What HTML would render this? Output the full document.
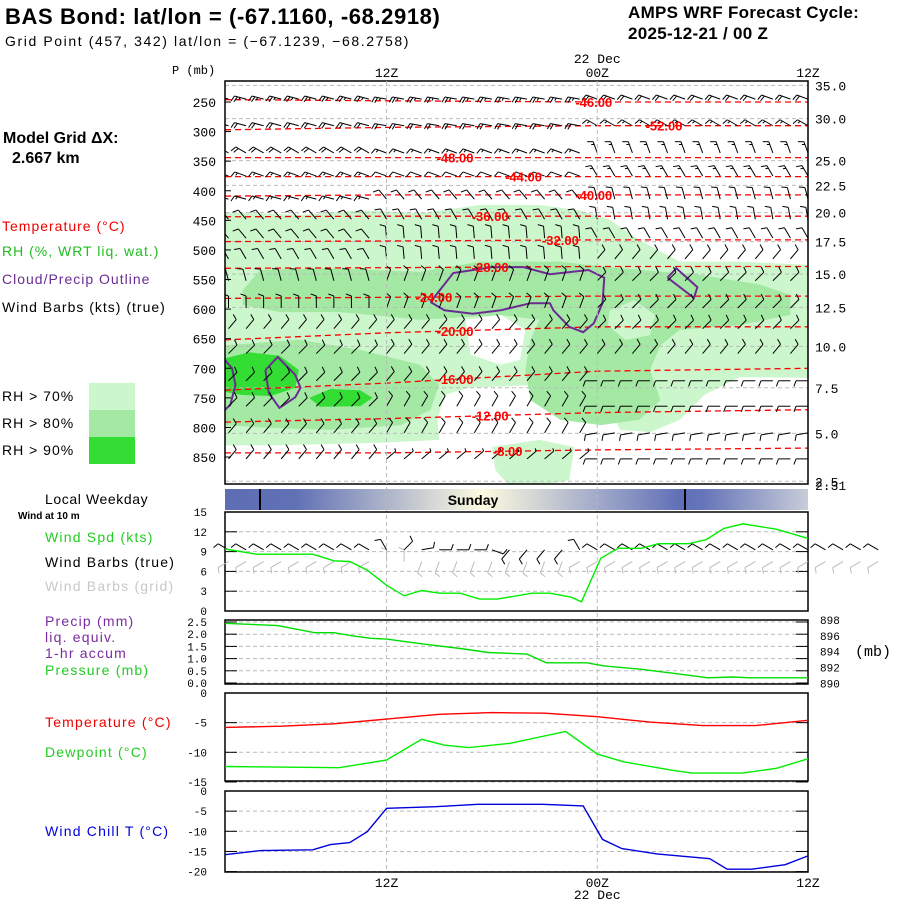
<!DOCTYPE html>
<html><head><meta charset="utf-8"><style>
html,body{margin:0;padding:0;background:#fff;}
svg{display:block;font-family:"Liberation Sans",sans-serif;}
.m{font-family:"Liberation Mono",monospace;}
</style></head><body>
<svg id="chart" width="900" height="900" viewBox="0 0 900 900">
<defs>
<linearGradient id="wk" x1="225" x2="808" y1="0" y2="0" gradientUnits="userSpaceOnUse">
<stop offset="0" stop-color="#5e6eb5"/><stop offset="0.12" stop-color="#6070b5"/>
<stop offset="0.44" stop-color="#fdfbe0"/><stop offset="0.78" stop-color="#6070b8"/>
<stop offset="0.82" stop-color="#6575b8"/><stop offset="1" stop-color="#c8ccd8"/>
</linearGradient>
<clipPath id="mainclip"><rect x="225" y="81" width="583" height="403"/></clipPath>
</defs>
<text x="5" y="24" font-size="22" font-weight="bold" letter-spacing="0.6">BAS Bond:  lat/lon = (-67.1160, -68.2918)</text>
<text x="5" y="46" font-size="14" letter-spacing="1.6">Grid Point (457, 342) lat/lon = (−67.1239, −68.2758)</text>
<text x="628" y="18" font-size="17" font-weight="bold" letter-spacing="0.3">AMPS WRF Forecast Cycle:</text>
<text x="628" y="39" font-size="17" font-weight="bold" letter-spacing="0.3">2025-12-21 / 00  Z</text>
<text x="3" y="143" font-size="16" font-weight="bold">Model Grid ΔX:</text>
<text x="12" y="163" font-size="16" font-weight="bold">2.667 km</text>
<g font-size="14" letter-spacing="1">
<text x="2" y="231" fill="#ee0000">Temperature (°C)</text>
<text x="2" y="256" fill="#22bb22">RH (%, WRT liq. wat.)</text>
<text x="2" y="284" fill="#6a2c91">Cloud/Precip Outline</text>
<text x="2" y="312" fill="#000">Wind Barbs (kts) (true)</text>
<text x="2" y="401">RH &gt; 70%</text>
<text x="2" y="428">RH &gt; 80%</text>
<text x="2" y="455">RH &gt; 90%</text>
</g>
<rect x="89" y="383" width="46" height="27" fill="#ccf7cc"/>
<rect x="89" y="410" width="46" height="27" fill="#a3e8a3"/>
<rect x="89" y="437" width="46" height="27" fill="#33dd33"/>
<text x="172" y="74" font-size="12" class="m">P (mb)</text>
<text x="878" y="280" font-size="12" class="m" transform="rotate(90 884 300)">Kft MSL</text>

<g id="main" clip-path="url(#mainclip)"></g>
<g id="overlay"></g>
<rect x="225" y="81" width="583" height="403" fill="none" stroke="#000" stroke-width="1.5"/>

<rect x="225" y="489" width="583" height="21" fill="url(#wk)"/>
<line x1="260" y1="489" x2="260" y2="510" stroke="#000" stroke-width="2"/>
<line x1="685" y1="489" x2="685" y2="510" stroke="#000" stroke-width="2"/>
<text x="473" y="505" font-size="14" font-weight="bold" text-anchor="middle">Sunday</text>
<text x="45" y="504" font-size="14" letter-spacing="0.6">Local Weekday</text>
<text x="18" y="519" font-size="10" font-weight="bold">Wind at 10 m</text>
<g font-size="14" letter-spacing="1.2">
<text x="45" y="542" fill="#22cc22">Wind Spd (kts)</text>
<text x="45" y="567" fill="#000">Wind Barbs (true)</text>
<text x="45" y="591" fill="#c8c8c8">Wind Barbs (grid)</text>
<text x="45" y="626" fill="#7a2ca0">Precip (mm)</text>
<text x="45" y="642" fill="#7a2ca0">liq. equiv.</text>
<text x="45" y="658" fill="#7a2ca0">1-hr accum</text>
<text x="45" y="675" fill="#22cc22">Pressure (mb)</text>
<text x="45" y="727" fill="#ee0000">Temperature (°C)</text>
<text x="45" y="757" fill="#22cc22">Dewpoint (°C)</text>
<text x="45" y="836" fill="#0000dd">Wind Chill T (°C)</text>
</g>
<text x="855" y="656" font-size="15" class="m">(mb)</text>
<g id="lower"></g>
</svg>
<script>
// ---------- data ----------
const levels = [250,300,350,400,450,500,550,600,650,700,750,800,850];
const kftLabels = ["35.0","30.0","25.0","22.5","20.0","17.5","15.0","12.5","10.0","7.5","5.0","2.5","2.31"];
const kftPress = [222,278,349,391,437,486,541,597,663,733,810,891,897];
const timeTickHours = [12,24,36];
const timeTickLabels = ["12Z","00Z","12Z"];
// barbs (main)
const barbLevels = [235,280,326,365,404,438,470,505,542,588,623,665,711,754,799,843];
const barbDirLeft = [285,285,300,290,285,320,320,330,345,0,40,45,45,45,40,40];
const barbDirMid  = [280,280,290,290,320,330,355,355,20,20,40,40,40,30,30,50];
const barbDirRight= [290,300,340,330,345,350,330,40,45,45,45,40,270,270,260,270];
const barbSpdLeft = [25,20,20,15,15,10,10,10,10,10,10,10,10,10,10,10];
const barbSpdMid  = [25,20,15,10,10,10,10,10,10,10,10,10,10,10,10,5];
const barbSpdRight= [20,15,15,15,10,10,10,10,10,10,10,10,10,10,10,10];
// isotherms
const isoValues = ["-46.00","-52.00","-48.00","-44.00","-40.00","-36.00","-32.00","-28.00","-24.00","-20.00","-16.00","-12.00","-8.00"];
const isoHours = [2.8,12,24,36];
const isoPress = [[246,248,250,250],[297,293,290,290],[344,344,344,344],[376,376,376,376],[409,407,407,407],[444,443,443,443],[486,485,483,483],[531,530,528,528],[582,580,578,578],[652,640,630,630],[737,725,705,700],[791,785,775,770],[843,843,838,835]];
const isoLabelHour = [23.8,27.8,15.9,19.8,23.8,17.9,21.9,17.9,14.7,15.9,15.9,17.9,18.9];
// RH polygons [hour, pressure]
const rh70 = [[2.8,436],[7.1,441],[10.5,433],[13.9,438],[17.3,424],[20.7,424],[23.0,433],[24.7,449],[26.4,483],[28.7,520],[32.1,520],[36,525],[36,716],[32.1,715],[30.1,745],[28.7,787],[27.0,808],[25.3,804],[24.6,762],[23.6,733],[20.7,728],[16.7,733],[15.3,745],[14.9,787],[15.0,821],[11.6,826],[5.9,830],[2.8,830]];
const rh70strip = [[18.0,833],[20.7,821],[22.7,833],[22.4,889],[20.7,899],[19.0,899],[18.2,872]];
const rh70hole = [[16.5,618],[18.5,610],[19.9,635],[19.6,686],[18.5,694],[16.8,677]];
const rh80a = [[3.8,568],[4.8,534],[8.8,531],[13.9,537],[17.3,520],[21.9,520],[25.3,531],[29.8,542],[33.3,559],[35.0,576],[35.0,610],[32.1,627],[28.7,635],[27.6,661],[27.0,703],[27.6,754],[26.4,787],[24.2,796],[21.9,787],[20.2,754],[19.9,703],[20.2,652],[20.7,618],[18.5,610],[13.9,618],[9.4,605],[5.9,605],[3.8,593]];
const rh80hole = [[24.7,602],[26.1,585],[27.3,610],[27.0,644],[25.6,652],[24.6,627]];
const rh80b = [[2.8,661],[7.1,652],[10.5,669],[13.9,694],[15.0,728],[14.5,770],[12.8,796],[8.8,804],[5.4,801],[2.8,796]];
const rh90a = [[2.8,683],[4.2,673],[5.9,679],[7.0,703],[6.8,733],[5.4,747],[3.7,745],[2.8,740]];
const rh90b = [[7.6,750],[8.8,735],[10.5,737],[11.2,750],[10.5,764],[8.2,765]];
const cloud1 = [[14.5,588],[15.8,539],[18.0,529],[19.8,529],[21.3,541],[23.5,534],[24.4,547],[24.3,590],[23.8,624],[23.2,639],[22.4,630],[21.5,602],[21.3,590],[20.2,590],[18.5,602],[16.9,608],[15.3,602],[14.5,588]];
const cloud2 = [[28.0,547],[28.5,531],[29.7,563],[29.5,581],[28.0,547]];
const cloud3 = [[5.1,703],[5.8,681],[6.8,711],[7.1,733],[6.8,749],[5.9,767],[5.3,742],[5.1,703]];
const cloud4 = [[2.8,686],[3.2,700],[3.4,728],[3.1,762],[2.8,770]];
// surface series
const wsHours = [2.8,4.6,7.8,9,9.9,10.9,12,13,14,15,16.2,17.3,18.3,20.3,21.3,22.5,23.1,24.2,25.2,26.5,27.5,29.2,30.2,31.2,32.3,34.2,36];
const wsValues = [9.4,8.6,8.6,7.6,7.5,6.2,3.9,2.3,3.1,2.7,2.7,1.8,1.8,2.7,2.7,2.1,1.4,8.0,9.5,9.5,10.2,10.2,10.8,12.5,13.2,12.4,11.0];
const sfcBarbHours = [3,4,5,6,7,8,9,10,11,12,13,14,15,16,17,18,19,20,21,22,23,24,25,26,27,28,29,30,31,32,33,34,35,36,37,38,39,40];
const sfcBarbDir = [300,300,300,300,300,300,300,300,300,330,45,80,90,90,90,110,220,220,220,220,330,300,300,300,300,300,300,300,300,300,300,300,300,300,300,300,300,300];
const gridBarbDir = [240,240,240,240,240,240,240,240,240,0,0,200,200,200,200,200,200,200,200,200,240,240,240,240,240,240,240,240,240,240,240,240,240,240,240,240,240,240];
const presHours = [2.8,5.8,7.9,9,10.1,11.1,12,14,16.2,17.8,20,21.1,23.4,24.4,26.4,28.9,30.3,31.7,32.7,36];
const presValues = [897.6,897.3,896.4,896.4,896.0,895.7,895.6,895.0,894.4,893.9,893.7,892.6,892.6,892.2,891.8,891.1,890.7,890.8,890.7,890.7];
const tHours = [2.8,6,9,12,15,18,21,24,27,30,33,36];
const tValues = [-5.8,-5.6,-5.2,-4.4,-3.6,-3.3,-3.4,-4.0,-4.9,-5.5,-5.5,-4.6];
const dpHours = [2.8,9.3,12,14,15.3,16.7,19,22.2,24,25.5,28.2,29.4,32.3,34.2,36];
const dpValues = [-12.4,-12.6,-11.3,-7.8,-8.8,-9.2,-8.5,-6.5,-10.3,-11.6,-13.0,-13.5,-13.5,-12.7,-11.1];
const wcHours = [2.8,4.8,7.8,8.8,9.9,10.9,12,14.8,17.2,20.9,23.2,24.3,25.4,27.4,30.4,31.4,32.8,34.7,36];
const wcValues = [-15.8,-14.8,-14.6,-13.3,-12.8,-10.1,-4.3,-3.9,-3.3,-3.3,-3.7,-12.0,-14.3,-15.6,-16.8,-19.4,-19.4,-18.3,-16.1];
const wsTicks = [15,12,9,6,3,0];
const precipTicks = ["2.5","2.0","1.5","1.0","0.5","0.0"];
const presTicks = [898,896,894,892,890];
const tTicks = [0,-5,-10,-15];
const wcTicks = [0,-5,-10,-15,-20];

// ---------- scales ----------
const NS="http://www.w3.org/2000/svg";
const X = h => 225 + (h-2.8)*17.56;
const YP = p => 102 + (p-250)*0.5917;
const YW = v => 611 - v*6.6;
const YPr = mb => 683.3 - (mb-890)*7.9;
const YT = t => 693 - t*5.93;
const YWC = t => 791 - t*4.03;
function mk(tag, attrs, parent){const e=document.createElementNS(NS,tag);for(const k in attrs)e.setAttribute(k,attrs[k]);parent.appendChild(e);return e;}
const main=document.getElementById('main'), ov=document.getElementById('overlay'), low=document.getElementById('lower');
function pts(poly){return poly.map(d=>X(d[0]).toFixed(1)+','+YP(d[1]).toFixed(1)).join(' ');}

function fillPoly(poly,color,name){const e=mk('polygon',{points:pts(poly),fill:color},main);

}
fillPoly(rh70,'#ccf7cc','rh70-region');
fillPoly(rh70strip,'#ccf7cc','rh70-region-strip');
fillPoly(rh70hole,'#ffffff','rh70-gap');
fillPoly(rh80a,'#a3e8a3','rh80-region');
fillPoly(rh80hole,'#ccf7cc','rh80-gap');
fillPoly(rh80b,'#a3e8a3','rh80-region-lower');
fillPoly(rh90a,'#33dd33','rh90-region');
fillPoly(rh90b,'#33dd33','rh90-region-2');

kftPress.forEach((p,i)=>{const e=mk('line',{x1:225,x2:808,y1:YP(p),y2:YP(p),stroke:'#bbb','stroke-dasharray':'4,3'},main);

});
[12,24].forEach(h=>{const e=mk('line',{x1:X(h),x2:X(h),y1:81,y2:872,stroke:'#bbb','stroke-dasharray':'4,3'},low);

});

isoPress.forEach((row,i)=>{
  const e=mk('polyline',{points:pts(row.map((p,j)=>[isoHours[j],p])),fill:'none',stroke:'#ff0000','stroke-width':1.3,'stroke-dasharray':'6,4'},main);
  
  
});
[cloud1,cloud2,cloud3,cloud4].forEach(c=>{const e=mk('polyline',{points:pts(c),fill:'none',stroke:'#6a2c91','stroke-width':2},main);

});

function barb(parent,x,y,dir,spd,color,name){
  const g=mk('g',{stroke:color,'stroke-width':1,fill:'none'},parent);
  
  
  const r=dir*Math.PI/180, L=12;
  const tx=x+L*Math.sin(r), ty=y-L*Math.cos(r);
  mk('line',{x1:x,y1:y,x2:tx,y2:ty},g);
  const fr=(dir-70)*Math.PI/180;
  let n=Math.floor(spd/10), half=(spd%10)>=5;
  for(let k=0;k<n+(half?1:0);k++){
    const bx=tx-3*k*Math.sin(r), by=ty+3*k*Math.cos(r);
    const fl=(k<n)?6:3;
    mk('line',{x1:bx,y1:by,x2:bx+fl*Math.sin(fr),y2:by-fl*Math.cos(fr)},g);
  }
}
barbLevels.forEach((p,i)=>{
  for(let h=3;h<=36;h++){
    const seg=h<12?0:(h<24?1:2);
    const d=[barbDirLeft,barbDirMid,barbDirRight][seg][i];
    const s=[barbSpdLeft,barbSpdMid,barbSpdRight][seg][i];
    barb(main,X(h),YP(p)+6,d,s,'#000','wind-barb');
  }
});
isoPress.forEach((row,i)=>{
  const h=isoLabelHour[i];
  let j=0; while(j<isoHours.length-2 && isoHours[j+1]<h) j++;
  const f=(h-isoHours[j])/(isoHours[j+1]-isoHours[j]);
  const p=row[j]+(row[j+1]-row[j])*f;
  const t=mk('text',{x:X(h),y:YP(p)+5,'font-size':13,'font-weight':'bold',fill:'#ff0000','text-anchor':'middle'},ov);
  t.textContent=isoValues[i];
  
  
});
levels.forEach(p=>{const t=mk('text',{x:216,y:YP(p)+5,'font-size':13,'text-anchor':'end','class':'m'},ov);t.textContent=p;


mk('line',{x1:225,x2:231,y1:YP(p),y2:YP(p),stroke:'#000'},ov);});
kftPress.forEach((p,i)=>{const t=mk('text',{x:815,y:YP(p)+5,'font-size':13,'class':'m'},ov);t.textContent=kftLabels[i];

});
timeTickHours.forEach((h,i)=>{
  const t=mk('text',{x:X(h),y:77,'font-size':13,'text-anchor':'middle','class':'m'},ov);t.textContent=timeTickLabels[i];
  
  
  const b=mk('text',{x:X(h),y:887,'font-size':13,'text-anchor':'middle','class':'m'},ov);b.textContent=timeTickLabels[i];
  
  
});
[[63],[899]].forEach(a=>{const t=mk('text',{x:X(24),y:a[0],'font-size':13,'text-anchor':'middle','class':'m'},ov);t.textContent='22 Dec';

});

function panel(y1,y2,name){const r=mk('rect',{x:225,y:y1,width:583,height:y2-y1,fill:'none',stroke:'#000','stroke-width':1.5},low);

}
function hgrid(y,lbl,side){
  mk('line',{x1:225,x2:808,y1:y,y2:y,stroke:'#bbb','stroke-dasharray':'4,3'},low);
  mk('line',{x1:225,x2:237,y1:y,y2:y,stroke:'#000'},low);
  mk('line',{x1:796,x2:808,y1:y,y2:y,stroke:'#000'},low);
  const t=mk('text',{x:side==='r'?820:207,y:y+4,'font-size':11,'text-anchor':side==='r'?'start':'end','class':'m'},low);t.textContent=lbl;
  
  
}
wsTicks.forEach(v=>hgrid(YW(v),v,'l'));
precipTicks.forEach((v,i)=>hgrid(622+i*12.2,v,'l'));
presTicks.forEach(v=>{const t=mk('text',{x:820,y:YPr(v)+4,'font-size':11,'class':'m'},low);t.textContent=v;

});
tTicks.forEach(v=>hgrid(YT(v),v,'l'));
wcTicks.forEach(v=>hgrid(YWC(v),v,'l'));
panel(512,611,'wind-panel');panel(620,684,'pressure-panel');panel(693,781,'temperature-panel');panel(791,872,'wind-chill-panel');

function line(hs,vs,ys,color,name){
  const e=mk('polyline',{points:hs.map((h,i)=>X(h).toFixed(1)+','+ys(vs[i]).toFixed(1)).join(' '),fill:'none',stroke:color,'stroke-width':1.4},low);
  
  
}
sfcBarbHours.forEach((h,i)=>{
  barb(low,X(h),YW(9)+10,gridBarbDir[i],10,'#bbbbbb','grid-wind-barb');
  barb(low,X(h),YW(12)+18,sfcBarbDir[i],10,'#000','surface-wind-barb');
});
line(wsHours,wsValues,YW,'#00ee00','wind-speed-line');
line(presHours,presValues,YPr,'#00dd00','pressure-line');
line(tHours,tValues,YT,'#ff0000','temperature-line');
line(dpHours,dpValues,YT,'#00ee00','dewpoint-line');
line(wcHours,wcValues,YWC,'#0000dd','wind-chill-line');
</script>
</body></html>
